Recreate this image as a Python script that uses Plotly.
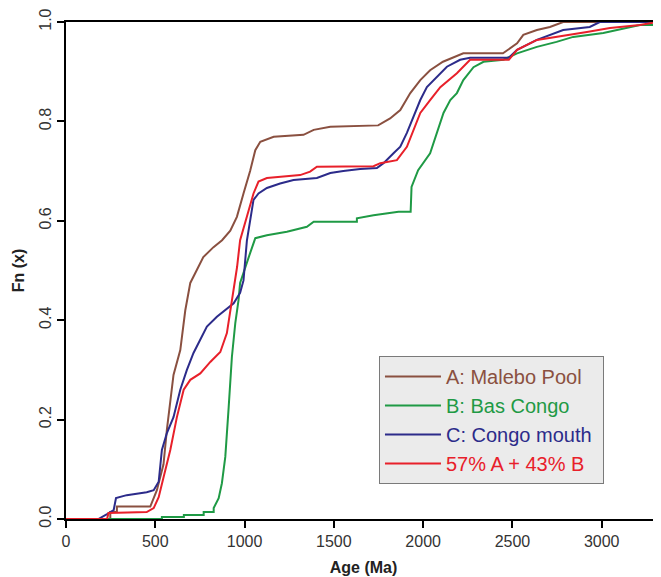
import plotly.graph_objects as go

# Age (Ma) and cumulative fraction Fn(x)
age_a = [0, 237, 248, 248, 285, 285, 472, 509, 546, 565, 602, 640, 668, 696, 769, 826, 874, 920,
         957, 994, 1031, 1060, 1088, 1163, 1330, 1387, 1480, 1748, 1815, 1872, 1928, 1984, 2039,
         2111, 2225, 2447, 2526, 2561, 2637, 2710, 2784, 3332]
fn_a = [0, 0, 0, 0.014, 0.014, 0.025, 0.025, 0.058, 0.11, 0.18, 0.29, 0.34, 0.42, 0.475, 0.527,
        0.547, 0.561, 0.58, 0.608, 0.655, 0.70, 0.742, 0.759, 0.769, 0.773, 0.783, 0.789, 0.792,
        0.806, 0.823, 0.857, 0.883, 0.903, 0.92, 0.937, 0.937, 0.957, 0.974, 0.984, 0.99, 1.0, 1.0]

age_b = [0, 537, 537, 660, 660, 771, 771, 827, 827, 855, 873, 892, 911, 929, 948, 966, 975, 1003,
         1031, 1060, 1125, 1237, 1349, 1387, 1629, 1629, 1722, 1862, 1930, 1935, 1972, 2039, 2077,
         2114, 2152, 2189, 2225, 2282, 2338, 2450, 2526, 2637, 2747, 2840, 3009, 3084, 3214, 3332]
fn_b = [0, 0, 0.004, 0.004, 0.008, 0.008, 0.014, 0.014, 0.022, 0.042, 0.072, 0.125, 0.225, 0.326,
        0.394, 0.44, 0.475, 0.507, 0.535, 0.565, 0.571, 0.578, 0.588, 0.598, 0.598, 0.605, 0.611,
        0.618, 0.618, 0.668, 0.702, 0.736, 0.777, 0.817, 0.843, 0.857, 0.883, 0.909, 0.92, 0.924,
        0.937, 0.95, 0.96, 0.97, 0.978, 0.984, 0.994, 0.994]

age_c = [0, 181, 230, 267, 280, 340, 452, 491, 519, 537, 565, 602, 640, 677, 714, 752, 789, 845,
         901, 939, 975, 994, 1013, 1031, 1050, 1078, 1125, 1199, 1274, 1405, 1480, 1553, 1647, 1741,
         1778, 1834, 1872, 1909, 1947, 1984, 2021, 2077, 2133, 2207, 2263, 2480, 2526, 2637, 2784,
         2933, 2989, 3332]
fn_c = [0, 0, 0.01, 0.018, 0.042, 0.048, 0.054, 0.058, 0.075, 0.139, 0.173, 0.205, 0.26, 0.30,
        0.334, 0.36, 0.387, 0.407, 0.424, 0.434, 0.455, 0.48, 0.56, 0.60, 0.642, 0.655, 0.666, 0.675,
        0.682, 0.686, 0.696, 0.70, 0.704, 0.706, 0.716, 0.736, 0.749, 0.777, 0.809, 0.843, 0.869,
        0.89, 0.91, 0.924, 0.928, 0.928, 0.944, 0.964, 0.984, 0.99, 1.0, 1.0]

age_m = [0, 230, 238, 452, 491, 519, 547, 584, 621, 659, 696, 752, 808, 864, 901, 920, 939, 958,
         975, 1013, 1050, 1078, 1125, 1311, 1367, 1405, 1722, 1760, 1853, 1909, 1947, 1984, 2039,
         2096, 2189, 2263, 2480, 2526, 2637, 2747, 2917, 3046, 3214, 3309, 3332]
fn_m = [0, 0, 0.012, 0.014, 0.022, 0.044, 0.085, 0.139, 0.205, 0.26, 0.28, 0.293, 0.316, 0.336,
        0.374, 0.42, 0.461, 0.507, 0.561, 0.608, 0.655, 0.679, 0.686, 0.692, 0.699, 0.709, 0.71,
        0.716, 0.722, 0.749, 0.783, 0.817, 0.843, 0.869, 0.897, 0.924, 0.924, 0.944, 0.964, 0.97,
        0.98, 0.988, 0.994, 1.0, 1.0]

names = ["A: Malebo Pool", "B: Bas Congo", "C: Congo mouth", "57% A + 43% B"]
colors = ["#8a5040", "#1f9a45", "#2c2b8a", "#e8202a"]
x_ticks = [0, 500, 1000, 1500, 2000, 2500, 3000]
y_ticks = [0.0, 0.2, 0.4, 0.6, 0.8, 1.0]

fig = go.Figure()
series = [(age_a, fn_a), (age_b, fn_b), (age_c, fn_c), (age_m, fn_m)]
for (xs, ys), nm, col in zip(series, names, colors):
    fig.add_trace(go.Scatter(
        x=xs, y=ys, mode="lines", line=dict(color=col, width=2, shape="linear"),
        name=f"<span style='color:{col}'>{nm}&nbsp;</span>",
    ))

FAM = "Liberation Sans, Arial, sans-serif"
axis_font = dict(family=FAM, size=16, color="#333333")
fig.update_layout(
    width=653, height=569,
    margin=dict(l=58, r=0, t=14, b=58),
    paper_bgcolor="white", plot_bgcolor="white",
    font=dict(family=FAM),
    showlegend=True,
    legend=dict(
        x=0.526, y=0.328, xanchor="left", yanchor="top",
        bgcolor="#ebebeb", bordercolor="#7a7a7a", borderwidth=1,
        font=dict(family=FAM, size=20),
        tracegroupgap=0, itemwidth=56,
    ),
)
fig.update_xaxes(
    range=[0, 3332], tickvals=x_ticks, ticks="outside", ticklen=7, tickwidth=1.5,
    tickcolor="black", showline=True, linecolor="black", linewidth=2, mirror=True,
    showgrid=False, zeroline=False, tickfont=axis_font, automargin=False,
    title=dict(text="<b>Age (Ma)</b>", font=dict(family=FAM, size=16, color="#222222"), standoff=13),
)
fig.update_yaxes(
    range=[0, 1], tickvals=y_ticks, tickformat=".1f", ticks="outside", ticklen=7, tickwidth=1.5,
    tickcolor="black", showline=True, linecolor="black", linewidth=2, mirror=True,
    showgrid=False, zeroline=False, tickfont=axis_font, tickangle=-90, automargin=False,
    title=dict(text="<b>Fn (x)</b>", font=dict(family=FAM, size=16, color="#222222"), standoff=8),
)
fig.write_html("out.html")
